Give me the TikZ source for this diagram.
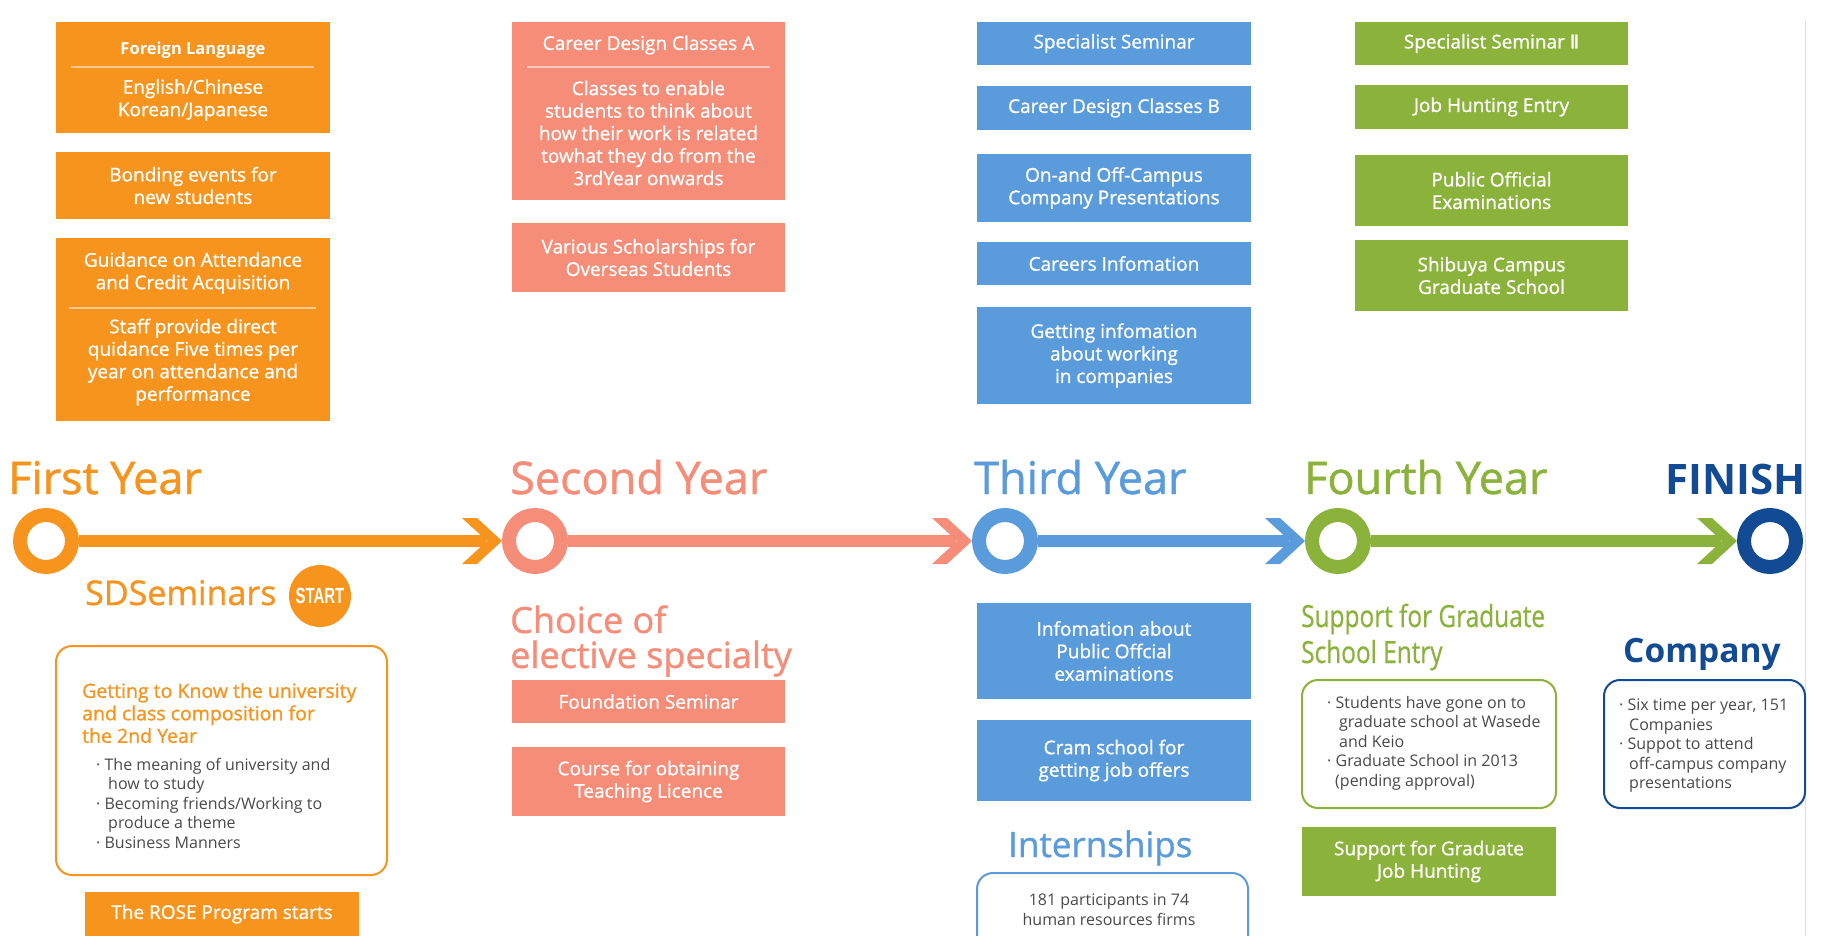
\documentclass[tikz,border=0pt]{standalone}
\usepackage{fontspec}
\setmainfont{Open Sans}
\newfontfamily\medfont[FakeBold=1.0]{Open Sans}
\newfontfamily\condfont[FakeStretch=0.8,FakeBold=0.5]{Open Sans}
\newfontfamily\startfont[FakeStretch=0.68]{Liberation Sans}
\newfontfamily\numfont[FakeBold=1.0]{DejaVu Sans}
\definecolor{orC}{HTML}{F7941D}
\definecolor{saC}{HTML}{F58D78}
\definecolor{blC}{HTML}{5A9BDC}
\definecolor{grC}{HTML}{8BB33C}
\definecolor{nvC}{HTML}{124B93}
\definecolor{grayT}{HTML}{4A4A4A}
\newcommand\mychev[2]{\fill[#2] ([shift={(-40,-23)}]#1) -- ([shift={(-25,-23)}]#1) -- (#1) -- ([shift={(-25,23)}]#1) -- ([shift={(-40,23)}]#1) -- ([shift={(-15,0)}]#1) -- cycle;}
\tikzset{
 colbox/.style={fill=#1, draw=none, inner sep=0pt},
 btxt/.style={text=white, font=\medfont\fontsize{19}{22.5}\selectfont, align=center, inner sep=0pt},
 ring/.style={circle, draw=#1, line width=14pt, minimum size=52pt, inner sep=0pt, fill=white},
 tl/.style={line width=12pt, draw=#1, shorten >=16pt},
 rbox/.style={draw=#1, line width=2pt, rounded corners=16pt, fill=white, inner sep=0pt},
 gtxt/.style={text=grayT, font=\fontsize{16}{19.5}\selectfont, align=left, inner sep=0pt, anchor=west},
 yr/.style={text=#1, font=\medfont\fontsize{45}{54}\selectfont, anchor=base west, inner sep=0pt},
 sepline/.style={draw=white!50!#1, line width=1.2pt}
}
\begin{document}
\begin{tikzpicture}[x=1pt,y=-1pt]
\useasboundingbox (0,0) rectangle (1821,936);
\fill[white] (0,0) rectangle (1821,936);
\draw[gray!25, line width=1pt] (1805,20) -- (1805,936);

% ---------- First year column
\node[colbox=orC, minimum width=274pt, minimum height=111pt] (fl) at (193,77.5) {};
\node[btxt, font=\bfseries\fontsize{16.5}{20}\selectfont] (flt) at (193,50) {Foreign Language};
\draw[sepline=orC] (71,67) -- (314,67);
\node[btxt] (flb) at (193,100) {English/Chinese\\Korean/Japanese};
\node[colbox=orC, minimum width=274pt, minimum height=67pt, btxt] (bond) at (193,185.5) {Bonding events for\\new students};
\node[colbox=orC, minimum width=274pt, minimum height=183pt] (guid) at (193,329.5) {};
\node[btxt] (guidt) at (193,273) {Guidance on Attendance\\and Credit Acquisition};
\draw[sepline=orC] (69,308) -- (316,308);
\node[btxt] (guidb) at (193,362) {Staff provide direct\\quidance Five times per\\year on attendance and\\performance};

% ---------- Second year column
\node[colbox=saC, minimum width=273pt, minimum height=178pt] (cda) at (648.5,111) {};
\node[btxt] (cdat) at (648.5,45) {Career Design Classes A};
\draw[sepline=saC] (527,67) -- (770,67);
\node[btxt] (cdab) at (648.5,133) {Classes to enable\\students to think about\\how their work is related\\towhat they do from the\\3rdYear onwards};
\node[colbox=saC, minimum width=273pt, minimum height=69pt, btxt] (sch) at (648.5,257.5) {Various Scholarships for\\Overseas Students};

% ---------- Third year column
\node[colbox=blC, minimum width=274pt, minimum height=43pt, btxt] (ss) at (1114,43.5) {Specialist Seminar};
\node[colbox=blC, minimum width=274pt, minimum height=44pt, btxt] (cdb) at (1114,108) {Career Design Classes B};
\node[colbox=blC, minimum width=274pt, minimum height=68pt, btxt] (onc) at (1114,188) {On-and Off-Campus\\Company Presentations};
\node[colbox=blC, minimum width=274pt, minimum height=43pt, btxt] (ci) at (1114,263.5) {Careers Infomation};
\node[colbox=blC, minimum width=274pt, minimum height=97pt, btxt] (gi) at (1114,355.5) {Getting infomation\\about working\\in companies};

% ---------- Fourth year column
\node[colbox=grC, minimum width=273pt, minimum height=43pt, btxt] (ss2) at (1491.5,43.5) {Specialist Seminar {\numfont Ⅱ}};
\node[colbox=grC, minimum width=273pt, minimum height=44pt, btxt] (jhe) at (1491.5,107) {Job Hunting Entry};
\node[colbox=grC, minimum width=273pt, minimum height=71pt, btxt] (poe) at (1491.5,190.5) {Public Official\\Examinations};
\node[colbox=grC, minimum width=273pt, minimum height=71pt, btxt] (shib) at (1491.5,275.5) {Shibuya Campus\\Graduate School};

% ---------- Year titles
\node[yr=orC] (y1) at (8,494) {First Year};
\node[yr=saC] (y2) at (510,494) {Second Year};
\node[yr=blC] (y3) at (974,494) {Third Year};
\node[yr=grC] (y4) at (1304,494) {Fourth Year};
\node[yr=nvC, font=\bfseries\fontsize{42}{50}\selectfont] (y5) at (1665,494) {FINISH};

% ---------- Timeline
\node[ring=orC] (c1) at (46,541) {};
\node[ring=saC] (c2) at (535,541) {};
\node[ring=blC] (c3) at (1005,541) {};
\node[ring=grC] (c4) at (1338,541) {};
\node[ring=nvC] (c5) at (1770,541) {};
\draw[tl=orC] (c1) -- (c2);
\draw[tl=saC] (c2) -- (c3);
\draw[tl=blC] (c3) -- (c4);
\draw[tl=grC] (c4) -- (c5);
\mychev{c2.west}{orC}
\mychev{c3.west}{saC}
\mychev{c4.west}{blC}
\mychev{c5.west}{grC}

% ---------- First year lower
\node[text=orC, font=\medfont\fontsize{34}{40}\selectfont, anchor=base west, inner sep=0pt] (sd) at (85,605) {SDSeminars};
\node[circle, fill=orC, minimum size=62pt, inner sep=0pt, text=white, font=\startfont\bfseries\fontsize{22}{26}\selectfont] (start) at (320,596) {START};
\node[rbox=orC, minimum width=331pt, minimum height=229pt] (sdbox) at (221.5,760.5) {};
\node[anchor=west, align=left, inner sep=0pt, text=orC, font=\medfont\fontsize{19.5}{22.5}\selectfont] (sdtitle) at (82,713) {Getting to Know the university\\and class composition for\\the 2nd Year};
\node[gtxt] (sdlist) at (96,803) {· The meaning of university and\\\hspace*{12pt}how to study\\· Becoming friends/Working to\\\hspace*{12pt}produce a theme\\· Business Manners};
\node[colbox=orC, minimum width=274pt, minimum height=44pt, btxt] (rose) at (222,914) {The ROSE Program starts};

% ---------- Second year lower
\node[anchor=west, align=left, inner sep=0pt, text=saC, font=\medfont\fontsize{36}{35}\selectfont] (choice) at (510,641) {Choice of\\elective specialty};
\node[colbox=saC, minimum width=273pt, minimum height=43pt, btxt] (fs) at (648.5,701.5) {Foundation Seminar};
\node[colbox=saC, minimum width=273pt, minimum height=69pt, btxt] (course) at (648.5,781.5) {Course for obtaining\\Teaching Licence};

% ---------- Third year lower
\node[colbox=blC, minimum width=274pt, minimum height=96pt, btxt] (info) at (1114,651) {Infomation about\\Public Offcial\\examinations};
\node[colbox=blC, minimum width=274pt, minimum height=81pt, btxt] (cram) at (1114,760.5) {Cram school for\\getting job offers};
\node[text=blC, font=\medfont\fontsize{35}{42}\selectfont, anchor=base west, inner sep=0pt] (intt) at (1008,857) {Internships};
\node[rbox=blC, minimum width=271pt, minimum height=117pt] (intbox) at (1112.5,931.5) {};
\node[text=grayT, font=\fontsize{16}{20}\selectfont, align=center, inner sep=0pt] (inttxt) at (1109,910) {181 participants in 74\\human resources firms};

% ---------- Fourth year lower
\node[anchor=west, align=left, inner sep=0pt, text=grC, font=\condfont\fontsize{30.5}{36}\selectfont] (sup) at (1301,637) {Support for Graduate\\School Entry};
\node[rbox=grC, minimum width=254pt, minimum height=128pt] (gbox) at (1429,744) {};
\node[gtxt] (glist) at (1327,743) {· Students have gone on to\\\hspace*{12pt}graduate school at Wasede\\\hspace*{12pt}and Keio\\· Graduate School in 2013\\\hspace*{8pt}(pending approval)};
\node[colbox=grC, minimum width=254pt, minimum height=69pt, btxt] (sgjh) at (1429,861.5) {Support for Graduate\\Job Hunting};

% ---------- Finish lower
\node[text=nvC, font=\bfseries\fontsize{33.5}{40}\selectfont, anchor=base west, inner sep=0pt] (comp) at (1623,662) {Company};
\node[rbox=nvC, minimum width=201pt, minimum height=128pt] (nbox) at (1704.5,744) {};
\node[gtxt] (nlist) at (1619,746) {· Six time per year, 151\\\hspace*{10pt}Companies\\· Suppot to attend\\\hspace*{10pt}off-campus company\\\hspace*{10pt}presentations};
\end{tikzpicture}
\end{document}
